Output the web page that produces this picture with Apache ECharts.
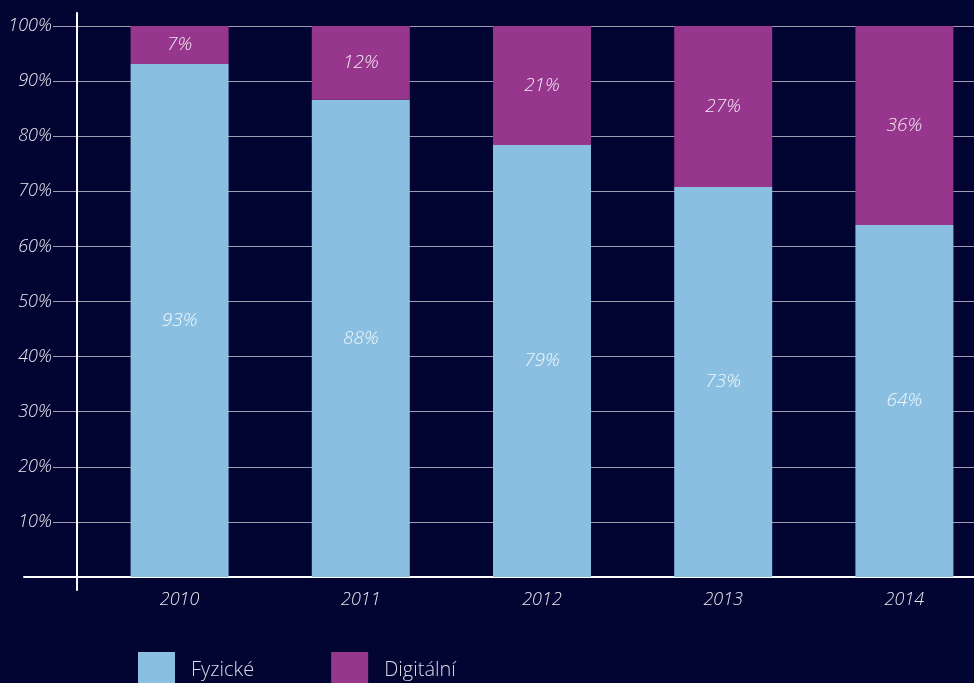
<!DOCTYPE html>
<html>
<head>
<meta charset="utf-8">
<script src="https://cdn.jsdelivr.net/npm/echarts@6/dist/echarts.min.js"></script>
<style>
  html, body { margin: 0; padding: 0; background: #020432; }
  #main { width: 974px; height: 683px; }
</style>
</head>
<body>
<div id="main"></div>
<script>
  // roky a podíly (výška sloupců, popisky jak jsou v grafu)
  var years = ['2010', '2011', '2012', '2013', '2014'];
  var fyzicke = [93.1, 86.6, 78.4, 70.8, 63.9];
  var digitalni = [6.9, 13.4, 21.6, 29.2, 36.1];
  var fyzickeLabels = ['93%', '88%', '79%', '73%', '64%'];
  var digitalniLabels = ['7%', '12%', '21%', '27%', '36%'];
  var yTicks = [0, 10, 20, 30, 40, 50, 60, 70, 80, 90, 100];

  var font = '"Open Sans", "DejaVu Sans", sans-serif';
  var labelStyle = {
    color: 'rgba(255,255,255,0.88)',
    fontFamily: font,
    fontStyle: 'italic',
    fontWeight: 300,
    fontSize: 19
  };

  var myChart = echarts.init(document.getElementById('main'));

  var option = {
    backgroundColor: '#020432',
    animation: false,
    grid: [
      // sloupce (přesahuje pravý okraj)
      { left: 89, width: 906, top: 26, bottom: 106, outerBoundsMode: 'none' },
      // mřížka a popisky osy y
      { left: 53, right: 0, top: 26, bottom: 106, outerBoundsMode: 'none' },
      // svislá čára osy y
      { left: 77, right: 0, top: 13, bottom: 93, outerBoundsMode: 'none' },
      // vodorovná čára osy x
      { left: 24, right: 0, top: 26, bottom: 106, outerBoundsMode: 'none' }
    ],
    legend: {
      left: 138,
      top: 652,
      padding: 0,
      itemWidth: 37,
      itemHeight: 36,
      itemGap: 77,
      icon: 'rect',
      data: ['Fyzické', 'Digitální'],
      textStyle: {
        color: '#d9dbe8',
        fontFamily: font,
        fontWeight: 300,
        fontSize: 20,
        padding: [0, 0, 0, 11]
      }
    },
    xAxis: [
      {
        gridIndex: 0,
        type: 'category',
        data: years,
        axisLine: { show: false },
        axisTick: { show: false },
        axisLabel: {
          margin: 14,
          color: '#e6e6ee',
          fontFamily: font,
          fontStyle: 'italic',
          fontWeight: 300,
          fontSize: 18
        }
      },
      { gridIndex: 1, type: 'value', show: false },
      { gridIndex: 2, type: 'value', show: false },
      {
        gridIndex: 3,
        type: 'value',
        axisLine: { show: true, lineStyle: { color: '#ffffff', width: 2 } },
        axisTick: { show: false },
        axisLabel: { show: false },
        splitLine: { show: false }
      }
    ],
    yAxis: [
      { gridIndex: 0, type: 'value', min: 0, max: 100, show: false },
      {
        gridIndex: 1,
        type: 'value',
        min: 0,
        max: 100,
        interval: 10,
        axisLine: { show: false },
        axisTick: { show: false },
        axisLabel: {
          margin: 1,
          color: '#e6e6ee',
          fontFamily: font,
          fontStyle: 'italic',
          fontWeight: 300,
          fontSize: 18,
          formatter: function (v) {
            return (v === 0 || yTicks.indexOf(v) < 0) ? '' : v + '%';
          }
        },
        splitLine: { lineStyle: { color: '#9b9cae', width: 1 } }
      },
      {
        gridIndex: 2,
        type: 'value',
        axisLine: { show: true, lineStyle: { color: '#ffffff', width: 2 } },
        axisTick: { show: false },
        axisLabel: { show: false },
        splitLine: { show: false }
      },
      { gridIndex: 3, type: 'value', show: false }
    ],
    series: [
      {
        name: 'Fyzické',
        type: 'bar',
        stack: 'podil',
        xAxisIndex: 0,
        yAxisIndex: 0,
        barWidth: 98,
        data: fyzicke,
        itemStyle: { color: '#8abfe1' },
        label: Object.assign({
          show: true,
          position: 'inside',
          formatter: function (p) { return fyzickeLabels[p.dataIndex]; }
        }, labelStyle)
      },
      {
        name: 'Digitální',
        type: 'bar',
        stack: 'podil',
        xAxisIndex: 0,
        yAxisIndex: 0,
        barWidth: 98,
        data: digitalni,
        itemStyle: { color: '#96368d' },
        label: Object.assign({
          show: true,
          position: 'inside',
          formatter: function (p) { return digitalniLabels[p.dataIndex]; }
        }, labelStyle)
      }
    ]
  };

  myChart.setOption(option);
</script>
</body>
</html>
